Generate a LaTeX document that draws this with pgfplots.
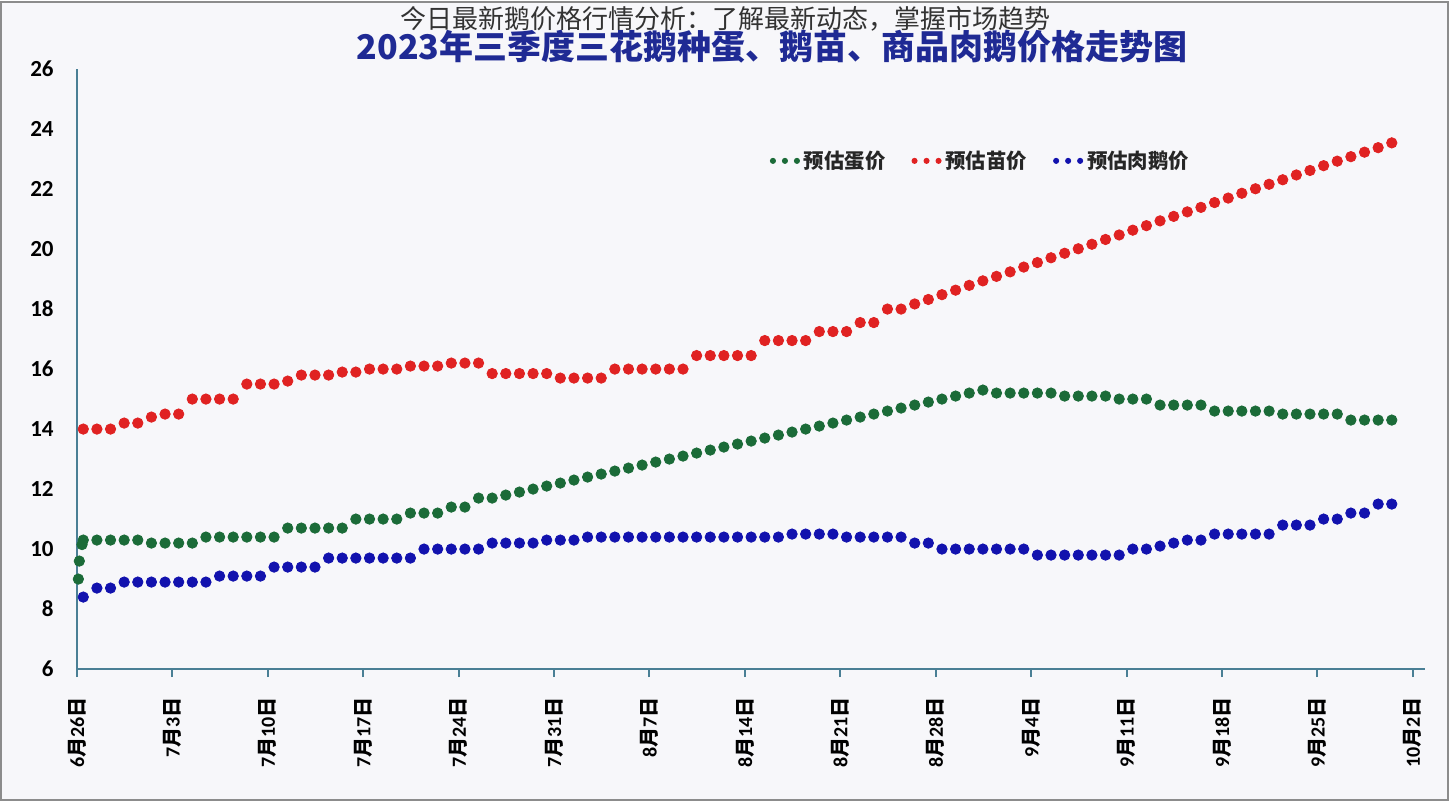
\documentclass[border=0pt]{standalone}
\usepackage{fontspec}
\setmainfont{Carlito}
\newfontfamily\cjk{Noto Sans CJK SC}
\usepackage{pgfplots}
\pgfplotsset{compat=1.18}
\usepackage{pgfplotstable}

\definecolor{bg}{HTML}{F7F7FA}
\definecolor{egg}{HTML}{1B6B38}
\definecolor{chick}{HTML}{E02222}
\definecolor{goose}{HTML}{1212AE}
\definecolor{axcol}{HTML}{4A7F95}
\definecolor{ttl}{HTML}{1F2A94}

\newcommand\md[2]{#1{\cjk 月}#2{\cjk 日}}

% day index (0 = 6/26), price
\pgfplotstableread[row sep=\\]{
d v\\
-0.36 9.0\\ -0.29 9.6\\ -0.09 10.15\\
0 10.3\\ 1 10.3\\ 2 10.3\\ 3 10.3\\ 4 10.3\\ 5 10.2\\ 6 10.2\\ 7 10.2\\ 8 10.2\\
9 10.4\\ 10 10.4\\ 11 10.4\\ 12 10.4\\ 13 10.4\\ 14 10.4\\
15 10.7\\ 16 10.7\\ 17 10.7\\ 18 10.7\\ 19 10.7\\
20 11.0\\ 21 11.0\\ 22 11.0\\ 23 11.0\\ 24 11.2\\ 25 11.2\\ 26 11.2\\
27 11.4\\ 28 11.4\\ 29 11.7\\ 30 11.7\\ 31 11.8\\ 32 11.9\\ 33 12.0\\
34 12.1\\ 35 12.2\\ 36 12.3\\ 37 12.4\\ 38 12.5\\ 39 12.6\\ 40 12.7\\
41 12.8\\ 42 12.9\\ 43 13.0\\ 44 13.1\\ 45 13.2\\ 46 13.3\\ 47 13.4\\
48 13.5\\ 49 13.6\\ 50 13.7\\ 51 13.8\\ 52 13.9\\ 53 14.0\\ 54 14.1\\
55 14.2\\ 56 14.3\\ 57 14.4\\ 58 14.5\\ 59 14.6\\ 60 14.7\\ 61 14.8\\
62 14.9\\ 63 15.0\\ 64 15.1\\ 65 15.2\\ 66 15.3\\
67 15.2\\ 68 15.2\\ 69 15.2\\ 70 15.2\\ 71 15.2\\
72 15.1\\ 73 15.1\\ 74 15.1\\ 75 15.1\\ 76 15.0\\ 77 15.0\\ 78 15.0\\
79 14.8\\ 80 14.8\\ 81 14.8\\ 82 14.8\\
83 14.6\\ 84 14.6\\ 85 14.6\\ 86 14.6\\ 87 14.6\\
88 14.5\\ 89 14.5\\ 90 14.5\\ 91 14.5\\ 92 14.5\\
93 14.3\\ 94 14.3\\ 95 14.3\\ 96 14.3\\
}\eggtab

\pgfplotstableread[row sep=\\]{
d v\\
0 14.0\\ 1 14.0\\ 2 14.0\\ 3 14.2\\ 4 14.2\\ 5 14.4\\ 6 14.5\\ 7 14.5\\
8 15.0\\ 9 15.0\\ 10 15.0\\ 11 15.0\\ 12 15.5\\ 13 15.5\\ 14 15.5\\ 15 15.6\\
16 15.8\\ 17 15.8\\ 18 15.8\\ 19 15.9\\ 20 15.9\\ 21 16.0\\ 22 16.0\\ 23 16.0\\
24 16.1\\ 25 16.1\\ 26 16.1\\ 27 16.2\\ 28 16.2\\ 29 16.2\\
30 15.85\\ 31 15.85\\ 32 15.85\\ 33 15.85\\ 34 15.85\\
35 15.7\\ 36 15.7\\ 37 15.7\\ 38 15.7\\
39 16.0\\ 40 16.0\\ 41 16.0\\ 42 16.0\\ 43 16.0\\ 44 16.0\\
45 16.45\\ 46 16.45\\ 47 16.45\\ 48 16.45\\ 49 16.45\\
50 16.95\\ 51 16.95\\ 52 16.95\\ 53 16.95\\
54 17.25\\ 55 17.25\\ 56 17.25\\ 57 17.55\\ 58 17.55\\ 59 18.0\\ 60 18.0\\
61 18.17\\ 62 18.32\\ 63 18.48\\ 64 18.63\\ 65 18.79\\ 66 18.94\\ 67 19.09\\
68 19.24\\ 69 19.40\\ 70 19.55\\ 71 19.71\\ 72 19.86\\ 73 20.01\\ 74 20.16\\
75 20.32\\ 76 20.47\\ 77 20.63\\ 78 20.78\\ 79 20.94\\ 80 21.09\\ 81 21.24\\
82 21.39\\ 83 21.55\\ 84 21.70\\ 85 21.86\\ 86 22.01\\ 87 22.16\\ 88 22.31\\
89 22.47\\ 90 22.62\\ 91 22.78\\ 92 22.93\\ 93 23.08\\ 94 23.23\\ 95 23.38\\
96 23.54\\
}\chicktab

\pgfplotstableread[row sep=\\]{
d v\\
0 8.4\\ 1 8.7\\ 2 8.7\\ 3 8.9\\ 4 8.9\\ 5 8.9\\ 6 8.9\\ 7 8.9\\ 8 8.9\\ 9 8.9\\
10 9.1\\ 11 9.1\\ 12 9.1\\ 13 9.1\\ 14 9.4\\ 15 9.4\\ 16 9.4\\ 17 9.4\\
18 9.7\\ 19 9.7\\ 20 9.7\\ 21 9.7\\ 22 9.7\\ 23 9.7\\ 24 9.7\\
25 10.0\\ 26 10.0\\ 27 10.0\\ 28 10.0\\ 29 10.0\\
30 10.2\\ 31 10.2\\ 32 10.2\\ 33 10.2\\ 34 10.3\\ 35 10.3\\ 36 10.3\\
37 10.4\\ 38 10.4\\ 39 10.4\\ 40 10.4\\ 41 10.4\\ 42 10.4\\ 43 10.4\\ 44 10.4\\
45 10.4\\ 46 10.4\\ 47 10.4\\ 48 10.4\\ 49 10.4\\ 50 10.4\\ 51 10.4\\
52 10.5\\ 53 10.5\\ 54 10.5\\ 55 10.5\\
56 10.4\\ 57 10.4\\ 58 10.4\\ 59 10.4\\ 60 10.4\\ 61 10.2\\ 62 10.2\\
63 10.0\\ 64 10.0\\ 65 10.0\\ 66 10.0\\ 67 10.0\\ 68 10.0\\ 69 10.0\\
70 9.8\\ 71 9.8\\ 72 9.8\\ 73 9.8\\ 74 9.8\\ 75 9.8\\ 76 9.8\\
77 10.0\\ 78 10.0\\ 79 10.1\\ 80 10.2\\ 81 10.3\\ 82 10.3\\
83 10.5\\ 84 10.5\\ 85 10.5\\ 86 10.5\\ 87 10.5\\
88 10.8\\ 89 10.8\\ 90 10.8\\ 91 11.0\\ 92 11.0\\
93 11.2\\ 94 11.2\\ 95 11.5\\ 96 11.5\\
}\goosetab

\begin{document}
\begin{tikzpicture}
\fill[bg] (-38.5pt,-66pt) rectangle (686pt,334pt);
\begin{axis}[
    at={(0pt,0pt)}, anchor=south west,
    scale only axis, width=674pt, height=300pt,
    xmin=0, xmax=98.9, ymin=6, ymax=26,
    clip=false,
    axis x line*=bottom, axis y line*=left,
    axis line style={draw=axcol, line width=1.3pt, -},
    xtick={0,7,...,98},
    xticklabels={\md{6}{26},\md{7}{3},\md{7}{10},\md{7}{17},\md{7}{24},\md{7}{31},
        \md{8}{7},\md{8}{14},\md{8}{21},\md{8}{28},\md{9}{4},\md{9}{11},
        \md{9}{18},\md{9}{25},\md{10}{2}},
    ytick={6,8,...,26},
    tick align=outside,
    major tick length=4pt,
    xtick style={draw=axcol, line width=1pt},
    ytick style={draw=none},
    yticklabel style={font=\fontsize{11.5}{13}\selectfont\bfseries, text=black},
    /pgf/number format/assume math mode=true,
    xticklabel style={rotate=90, anchor=east, inner sep=0pt,
        font=\fontsize{10}{12}\selectfont\bfseries, text=black},
    xticklabel shift=10pt,
    yticklabel style={anchor=east, inner sep=0pt},
    yticklabel shift=7.5pt,
    legend style={at={(rel axis cs:0.671,0.847)}, anchor=center,
        draw=none, fill=none, inner sep=0pt,
        font=\cjk\bfseries\fontsize{10.2}{12}\selectfont, text=black!85,
        /tikz/every even column/.append style={column sep=11pt}},
    legend columns=3,
    legend cell align=left,
]
\addplot[only marks, mark=*, mark size=2.6pt, color=egg,
    legend image code/.code={\fill[egg] (0pt,0pt) circle (1.3pt) (6pt,0pt) circle (1.3pt) (12pt,0pt) circle (1.3pt);}]
    table[x expr=\thisrow{d}+0.46, y=v] {\eggtab};
\addlegendentry{预估蛋价}
\addplot[only marks, mark=*, mark size=2.6pt, color=chick,
    legend image code/.code={\fill[chick] (0pt,0pt) circle (1.3pt) (6pt,0pt) circle (1.3pt) (12pt,0pt) circle (1.3pt);}]
    table[x expr=\thisrow{d}+0.46, y=v] {\chicktab};
\addlegendentry{预估苗价}
\addplot[only marks, mark=*, mark size=2.6pt, color=goose,
    legend image code/.code={\fill[goose] (0pt,0pt) circle (1.3pt) (6pt,0pt) circle (1.3pt) (12pt,0pt) circle (1.3pt);}]
    table[x expr=\thisrow{d}+0.46, y=v] {\goosetab};
\addlegendentry{预估肉鹅价}
\end{axis}
\node[font=\cjk\bfseries\fontsize{17}{20}\selectfont, text=ttl] at (347.5pt,311pt)
    {2023年三季度三花鹅种蛋、鹅苗、商品肉鹅价格走势图};
\node[font=\cjk\fontsize{13}{15}\selectfont, text=black!80] at (324pt,325pt)
    {今日最新鹅价格行情分析：了解最新动态，掌握市场趋势};
\draw[black!45, line width=1pt] (-38pt,-65.5pt) rectangle (685.5pt,333.5pt);
\end{tikzpicture}
\end{document}
